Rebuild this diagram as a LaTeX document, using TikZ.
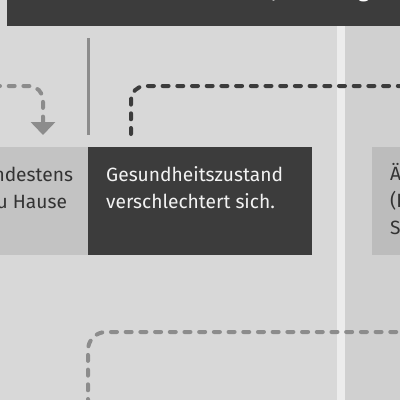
\documentclass[tikz,border=0pt]{standalone}
\usepackage{fontspec}
\setmainfont{Fira Sans}
\usetikzlibrary{arrows.meta}
\definecolor{bgc}{HTML}{D8D8D8}
\definecolor{colc}{HTML}{D0D0D0}
\definecolor{stripc}{HTML}{ECECEC}
\definecolor{darkc}{HTML}{3C3C3C}
\definecolor{grayc}{HTML}{8C8C8C}
\definecolor{lboxc}{HTML}{C3C3C3}
\definecolor{rboxc}{HTML}{BCBCBC}
\definecolor{txtdark}{HTML}{333333}
\definecolor{txtlight}{HTML}{F2F2F2}
\begin{document}
\begin{tikzpicture}[x=1pt,y=-1pt,
  boxbase/.style={draw=none, inner sep=0pt, anchor=north west},
  lightbox/.style={boxbase, fill=lboxc},
  darkbox/.style={boxbase, fill=darkc},
  greybox/.style={boxbase, fill=rboxc},
  boxtext/.style={inner sep=0pt, font=\fontsize{19.2}{27}\selectfont, align=left},
  darkdash/.style={draw=darkc, line width=4pt, line cap=round, dash pattern=on 6pt off 8.7pt, rounded corners=14pt},
  graydash/.style={draw=grayc, line width=4pt, line cap=round, dash pattern=on 6pt off 8.7pt, rounded corners=14pt},
  grayline/.style={draw=grayc, line width=3pt}
]
\useasboundingbox (0,0) rectangle (400,400);
\clip (0,0) rectangle (400,400);
% backgrounds
\fill[bgc] (0,0) rectangle (400,400);
\fill[colc] (345,26) rectangle (400,400);
\fill[stripc] (337,26) rectangle (345,400);
% header
\node[darkbox, minimum width=400pt, minimum height=26pt] (header) at (7,0) {};
\node[inner sep=0pt, anchor=base, text=white, font=\fontsize{20}{24}\selectfont\bfseries] (headtxt) at (277,-3)
  {\llap{Wenn sich der Zustand verschlechtert,}\rlap{ Anleitung}};
% boxes
\node[lightbox, minimum width=100pt, minimum height=108pt] (lbox) at (-12,147) {};
\node[darkbox, minimum width=224pt, minimum height=108pt] (dbox) at (88,147) {};
\node[greybox, minimum width=60pt, minimum height=108pt] (rbox) at (372,147) {};
% texts
\node[boxtext, text=txtdark, anchor=base] (ltxt1) at (73,181) {\llap{mindestens}};
\node[boxtext, text=txtdark, anchor=base] (ltxt2) at (67,208) {\llap{zu Hause}};
\node[boxtext, text=txtlight, anchor=base west] (dtxt1) at (106,181) {Gesundheitszustand};
\node[boxtext, text=txtlight, anchor=base west] (dtxt2) at (106,208) {verschlechtert sich.};
\node[boxtext, text=txtdark, anchor=base west] (rtxt1) at (390,180) {Ärztliche};
\node[boxtext, text=txtdark, anchor=base west] (rtxt2) at (390,207) {(Erst-)Diagnose};
\node[boxtext, text=txtdark, anchor=base west] (rtxt3) at (390,234) {Sprechstunde};
% connectors
\coordinate (vtop) at (88,38);
\coordinate (vbot) at (88,135);
\draw[grayline] (vtop) -- (vbot);
\coordinate (la) at (-6,86);
\coordinate (lb) at (43,135);
\draw[graydash, -{Triangle[width=24pt,length=13pt]}] (la) -| (lb);
\coordinate (da) at (131,134);
\coordinate (db) at (410,86);
\draw[darkdash] (da) |- (db);
\coordinate (ga) at (88,405);
\coordinate (gb) at (410,332);
\draw[graydash, rounded corners=18pt] (ga) |- (gb);
\end{tikzpicture}
\end{document}
